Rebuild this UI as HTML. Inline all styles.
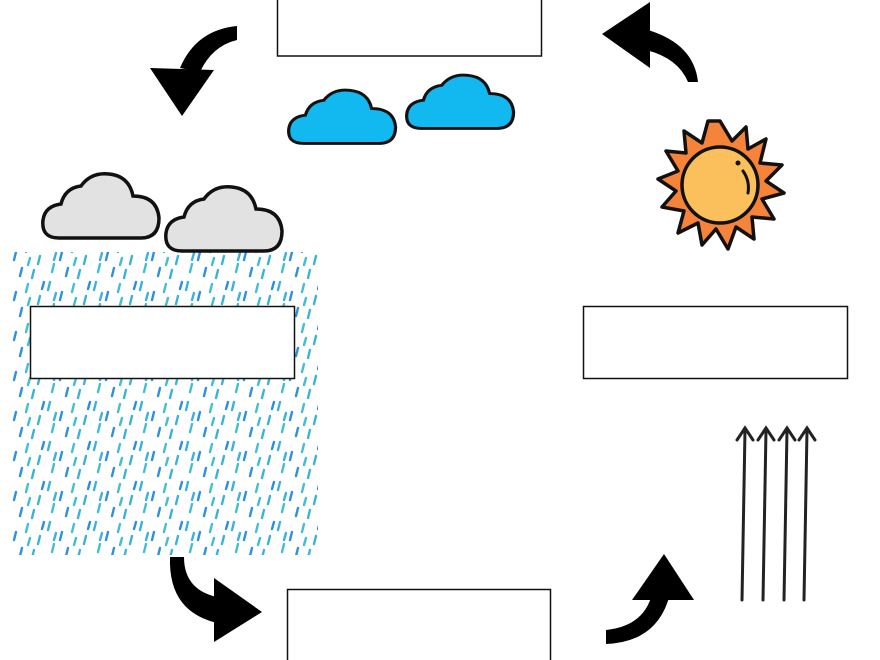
<!DOCTYPE html>
<html><head><style>html,body{margin:0;padding:0;background:#fff}svg{display:block}</style></head>
<body>
<svg width="880" height="660" viewBox="0 0 880 660" xmlns="http://www.w3.org/2000/svg">
<defs>
<pattern id="rain" width="46" height="40" patternUnits="userSpaceOnUse">
<g stroke-width="2.4" stroke-linecap="round">
<line x1="4" y1="2" x2="2" y2="10" stroke="#3ab3d8"/>
<line x1="16" y1="12" x2="14" y2="20" stroke="#2d8fe0"/>
<line x1="28" y1="4" x2="26" y2="12" stroke="#40c0cf"/>
<line x1="40" y1="16" x2="38" y2="24" stroke="#3ab3d8"/>
<line x1="8" y1="24" x2="6" y2="32" stroke="#40c0cf"/>
<line x1="22" y1="28" x2="20" y2="36" stroke="#2d8fe0"/>
<line x1="34" y1="30" x2="32" y2="38" stroke="#3ab3d8"/>
<line x1="44" y1="2" x2="42" y2="9" stroke="#2d8fe0"/>
<line x1="10" y1="13" x2="8" y2="20" stroke="#3ab3d8"/>
<line x1="30" y1="18" x2="28" y2="25" stroke="#40c0cf"/>
</g>
</pattern>
<path id="cloud" d="M18 74 Q0 74 2 56 Q4 42 20 40 Q24 24 40 22 Q50 8 68 10 Q88 12 92 32 Q116 32 118 54 Q118 74 100 74 Z"/>
</defs>
<rect x="12" y="252" width="306" height="303" fill="url(#rain)"/>
<g fill="#fff" stroke="#111" stroke-width="1.5">
<rect x="277.5" y="-2" width="264" height="58"/>
<rect x="30.5" y="306.5" width="264" height="72"/>
<rect x="583.5" y="306.5" width="264" height="72"/>
<rect x="287.5" y="589.5" width="263" height="76"/>
</g>
<g fill="#e2e2e2" stroke="#111" stroke-width="3.5">
<use href="#cloud" transform="translate(41,164)"/>
<use href="#cloud" transform="translate(164,177)"/>
</g>
<g fill="#12b8f0" stroke="#111" stroke-width="3.5">
<use href="#cloud" transform="translate(287,82) scale(0.92,0.83)"/>
<use href="#cloud" transform="translate(405,67) scale(0.92,0.83)"/>
</g>
<g transform="translate(720,185)">
<polygon fill="#f5843a" stroke="#111" stroke-width="3.5" stroke-linejoin="round" points="
0,-64 12,-44 26,-58 28,-36 46,-46 40,-22 62,-20 46,-4 64,8 42,14 54,34 32,32 34,54 16,42 8,64 -4,44 -18,60 -22,38 -42,48 -36,26 -58,22 -44,6 -62,-6 -42,-14 -54,-34 -34,-32 -36,-54 -18,-42 -12,-64"/>
<circle r="38" fill="#fbbf5c" stroke="#111" stroke-width="3.5"/>
<circle cx="18" cy="-22" r="2.5" fill="#111"/>
<path d="M23 -14 Q30 -4 28 8" fill="none" stroke="#111" stroke-width="3" stroke-linecap="round"/>
</g>
<g fill="#000">
<path d="M237 26 Q196 30 180 68 L200 72 Q212 46 237 40 Z"/>
<polygon points="150,68 214,70 182,116"/>
<path d="M698 82 Q694 44 648 30 L646 50 Q678 58 688 82 Z"/>
<polygon points="650,2 650,68 602,34"/>
<path d="M170 557 Q168 614 222 624 L222 598 Q184 592 184 557 Z"/>
<polygon points="214,578 214,642 262,612"/>
<path d="M606 644 Q658 642 670 594 L652 594 Q644 626 606 630 Z"/>
<polygon points="632,600 694,600 664,554"/>
</g>
<g stroke="#222" stroke-width="3" fill="none" stroke-linecap="round">
<line x1="742" y1="600" x2="745" y2="430"/>
<line x1="763" y1="600" x2="766" y2="430"/>
<line x1="784" y1="600" x2="787" y2="430"/>
<line x1="804" y1="600" x2="807" y2="430"/>
<polyline points="737,440 745,428 753,440"/>
<polyline points="758,440 766,428 774,440"/>
<polyline points="779,440 787,428 795,440"/>
<polyline points="799,440 807,428 815,440"/>
</g>
</svg>
</body></html>
